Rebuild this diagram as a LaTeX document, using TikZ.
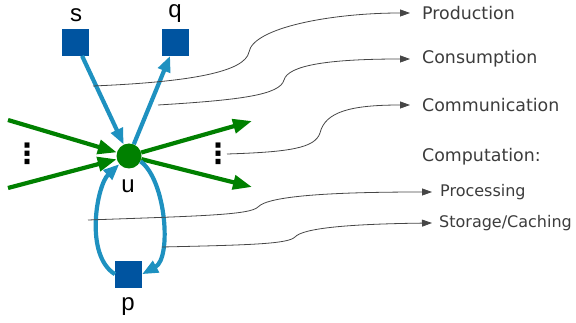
\documentclass[tikz,border=0pt]{standalone}
\usepackage{fontspec}
\setmainfont{DejaVu Sans}
\newfontfamily\labfont{Liberation Sans}
\usetikzlibrary{arrows.meta}
\definecolor{sqblue}{RGB}{0,84,160}
\definecolor{arblue}{RGB}{30,145,192}
\definecolor{grn}{RGB}{0,128,0}
\definecolor{txtgray}{RGB}{60,60,60}
\definecolor{lngray}{RGB}{70,70,70}
\begin{document}
\begin{tikzpicture}[x=1pt,y=-1pt,
  sq/.style={rectangle, fill=sqblue, minimum size=26.7pt, inner sep=0pt},
  hub/.style={circle, fill=grn, minimum size=25pt, inner sep=0pt},
  vlab/.style={font=\labfont\fontsize{24}{24}\selectfont, inner sep=0pt, anchor=base},
  bluearr/.style={draw=arblue, line width=4.2pt, -{Triangle[length=16pt,width=12.5pt]}},
  grnarr/.style={draw=grn, line width=4.2pt, -{Triangle[length=19pt,width=14pt]}},
  gconn/.style={draw=lngray, line width=0.8pt, -{Triangle[length=10pt,width=7pt]}},
  biglab/.style={font=\fontsize{17.4}{19}\selectfont, text=txtgray, anchor=west, inner sep=0pt},
  smlab/.style={font=\fontsize{16}{18}\selectfont, text=txtgray, anchor=west, inner sep=0pt},
  vdotsl/.style={font=\bfseries\fontsize{28}{28}\selectfont, inner sep=0pt}
]
\useasboundingbox (0,0) rectangle (576,323);

% nodes
\node[sq] (s) at (75.7,42.3) {};
\node[sq] (q) at (175.7,42.3) {};
\node[sq] (p) at (128.5,274.2) {};
\node[hub] (u) at (129,156) {};

\node[vlab] (sl) at (76,22) {s};
\node[vlab] (ql) at (175,18) {q};
\node[vlab] (ul) at (128,193) {u};
\node[vlab] (pl) at (128,311) {p};

\node[vdotsl] (dl) at (27,154) {⋮};
\node[vdotsl] (dr) at (218,154) {⋮};

% right labels
\node[biglab] (prod) at (422,13) {Production};
\node[biglab] (cons) at (422,59) {Consumption};
\node[biglab] (comm) at (422,105) {Communication};
\node[biglab] (comp) at (422,157) {Computation:};
\node[smlab] (proc) at (440,192) {Processing};
\node[smlab] (stor) at (439,223) {Storage/Caching};

% green flows
\coordinate (gi1) at (8,120);
\coordinate (gi2) at (8,188);
\coordinate (go1) at (252,121);
\coordinate (go2) at (252,187);
\draw[grnarr] (gi1) -- (u);
\draw[grnarr] (gi2) -- (u);
\draw[grnarr] (u) -- (go1);
\draw[grnarr] (u) -- (go2);

% blue flows
\draw[bluearr] (s) -- (u);
\draw[bluearr] (u) -- (q);
\draw[bluearr] (u.-25) .. controls (166,180) and (172,258) .. (p.east);
\draw[bluearr] (p.west) .. controls (84,255) and (97,185) .. (u.-140);

% gray connectors
\coordinate (c1) at (93,86);
\coordinate (c2) at (158,105);
\coordinate (c3) at (227,154);
\coordinate (c4) at (88,220);
\coordinate (c5) at (162,247);
\draw[gconn] (c1) .. controls (190,82) and (245,72) .. (249,52) .. controls (253,28) and (330,13) .. ([xshift=-12pt]prod.west);
\draw[gconn] (c2) .. controls (240,100) and (280,95) .. (284,80) .. controls (288,65) and (330,59) .. ([xshift=-12pt]cons.west);
\draw[gconn] (c3) .. controls (290,152) and (315,148) .. (320,133) .. controls (325,112) and (350,105) .. ([xshift=-12pt]comm.west);
\draw[gconn] (c4) .. controls (200,216) and (250,215) .. (258,207) .. controls (268,196) and (330,192) .. ([xshift=-8pt]proc.west);
\draw[gconn] (c5) .. controls (250,245) and (288,244) .. (295,237) .. controls (303,228) and (350,224) .. ([xshift=-7pt]stor.west);
\end{tikzpicture}
\end{document}
